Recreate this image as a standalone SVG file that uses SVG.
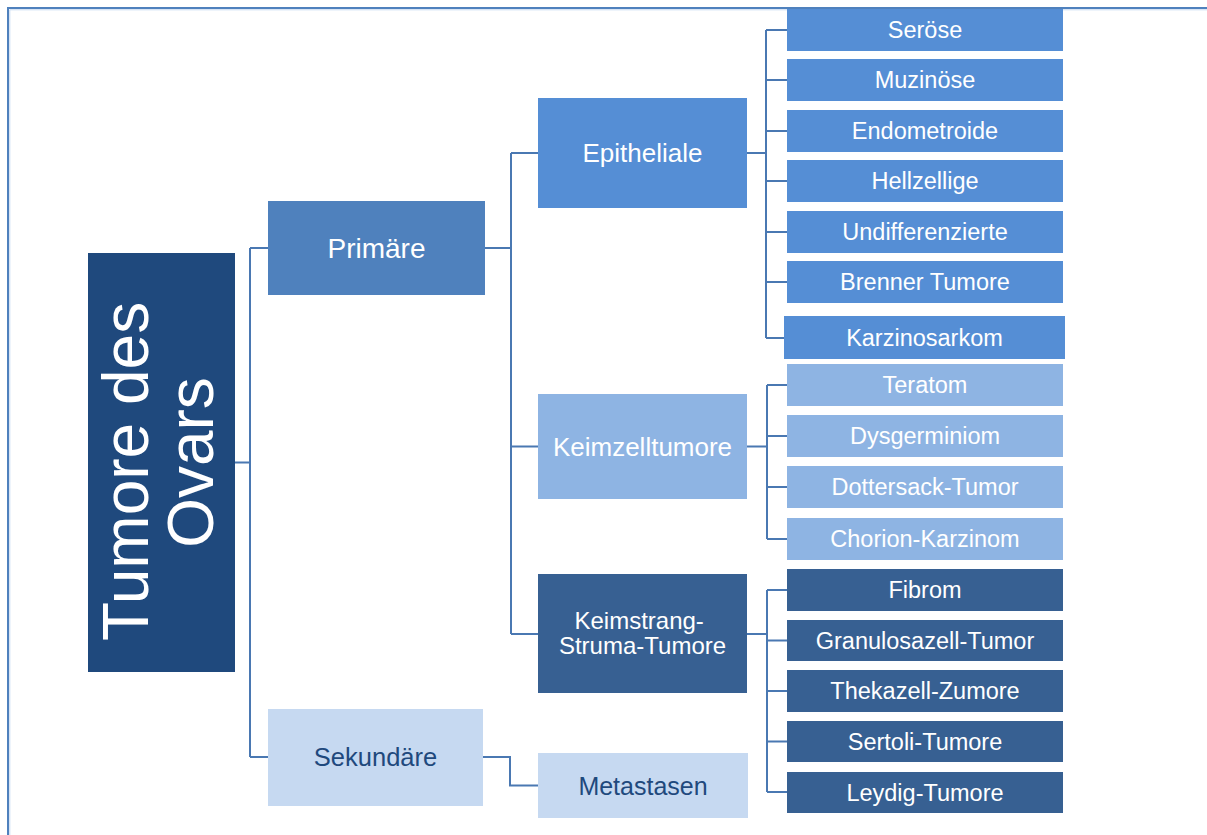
<svg xmlns="http://www.w3.org/2000/svg" width="1207" height="835" viewBox="0 0 1207 835">
  <style>
    text { font-family: "Liberation Sans", Arial, sans-serif; text-anchor: middle; }
    .root { fill: #1f497d; }
    .l1 { fill: #4f81bd; }
    .epi { fill: #558ed5; }
    .kz { fill: #8eb4e3; }
    .ks { fill: #376092; }
    .sek { fill: #c6d9f1; }
    .tw { fill: #ffffff; }
    .td { fill: #1f497d; }
    .leaf { font-size: 23.5px; }
    .mid { font-size: 26px; }
    .conn path { fill: none; stroke: #4a78b2; stroke-width: 2; }
    .conn path.hl { stroke: #b9cde6; stroke-width: 1; }
  </style>

  <rect width="1207" height="835" fill="#ffffff"/>

  <!-- page frame -->
  <path d="M8,835 V8 H1207" fill="none" stroke="#4f81bd" stroke-width="2"/>
  <path d="M9.8,835 V9.8 H1207" fill="none" stroke="#c6d9f1" stroke-width="1"/>

  <!-- connectors -->
  <g id="connectors" class="conn">
    <path d="M235,462.5 H250 M250,248 V757 M250,248 H268 M250,757 H268"/>
    <path d="M485,248 H511 M511,153 V634 M511,153 H538 M511,446.5 H538 M511,634 H538"/>
    <path d="M747,153 H766 M766,30 V338 M766,30 H787 M766,80 H787 M766,131 H787 M766,181 H787 M766,232 H787 M766,282 H787 M766,338 H784"/>
    <path d="M747,446.5 H767 M767,385 V539 M767,385 H787 M767,436 H787 M767,487 H787 M767,539 H787"/>
    <path d="M747,634 H767 M767,590 V792 M767,590 H787 M767,640.5 H787 M767,691 H787 M767,741.5 H787 M767,792 H787"/>
    <path d="M483,757 H510 V785.5 H538"/>
  </g>

  <!-- root -->
  <g id="root">
    <rect class="root" x="88" y="253" width="147" height="419"/>
    <text class="tw" font-size="64" transform="translate(161.5,462.5) rotate(-90)">
      <tspan x="0" y="-13.5">Tumore des</tspan>
      <tspan x="0" y="51.5">Ovars</tspan>
    </text>
  </g>

  <!-- first level -->
  <g id="primaere">
    <rect class="l1" x="268" y="201" width="217" height="94"/>
    <text class="tw" x="376.5" y="257.5" font-size="28">Primäre</text>
  </g>
  <g id="sekundaere">
    <rect class="sek" x="268" y="709" width="215" height="97"/>
    <text class="td" x="375.5" y="766" font-size="25.5">Sekundäre</text>
  </g>

  <!-- second level -->
  <g id="epitheliale">
    <rect class="epi" x="538" y="98" width="209" height="110"/>
    <text class="tw mid" x="642.5" y="162">Epitheliale</text>
  </g>
  <g id="keimzelltumore">
    <rect class="kz" x="538" y="394" width="209" height="105"/>
    <text class="tw mid" x="642.5" y="455.5">Keimzelltumore</text>
  </g>
  <g id="keimstrang">
    <rect class="ks" x="538" y="574" width="209" height="119"/>
    <text class="tw" x="642.5" font-size="24">
      <tspan x="642.5" y="628.5">Keimstrang-</tspan>
      <tspan x="642.5" y="653.5">Struma-Tumore</tspan>
    </text>
  </g>
  <g id="metastasen">
    <rect class="sek" x="538" y="753" width="210" height="65"/>
    <text class="td" x="643" y="794.5" font-size="25">Metastasen</text>
  </g>

  <!-- epithelial leaves -->
  <g id="seroese"><rect class="epi" x="787" y="9" width="276" height="42"/><text class="tw leaf" x="925" y="38">Seröse</text></g>
  <g id="muzinoese"><rect class="epi" x="787" y="59" width="276" height="42"/><text class="tw leaf" x="925" y="88">Muzinöse</text></g>
  <g id="endometroide"><rect class="epi" x="787" y="110" width="276" height="42"/><text class="tw leaf" x="925" y="139">Endometroide</text></g>
  <g id="hellzellige"><rect class="epi" x="787" y="160" width="276" height="42"/><text class="tw leaf" x="925" y="189">Hellzellige</text></g>
  <g id="undifferenzierte"><rect class="epi" x="787" y="211" width="276" height="42"/><text class="tw leaf" x="925" y="240">Undifferenzierte</text></g>
  <g id="brenner"><rect class="epi" x="787" y="261" width="276" height="42"/><text class="tw leaf" x="925" y="290">Brenner Tumore</text></g>
  <g id="karzinosarkom"><rect class="epi" x="784" y="316" width="281" height="43"/><text class="tw leaf" x="924.5" y="345.5">Karzinosarkom</text></g>

  <!-- germ cell leaves -->
  <g id="teratom"><rect class="kz" x="787" y="364" width="276" height="42"/><text class="tw leaf" x="925" y="393">Teratom</text></g>
  <g id="dysgerminiom"><rect class="kz" x="787" y="415" width="276" height="42"/><text class="tw leaf" x="925" y="444">Dysgerminiom</text></g>
  <g id="dottersack"><rect class="kz" x="787" y="466" width="276" height="42"/><text class="tw leaf" x="925" y="495">Dottersack-Tumor</text></g>
  <g id="chorion"><rect class="kz" x="787" y="518" width="276" height="42"/><text class="tw leaf" x="925" y="547">Chorion-Karzinom</text></g>

  <!-- sex cord stromal leaves -->
  <g id="fibrom"><rect class="ks" x="787" y="569" width="276" height="42"/><text class="tw leaf" x="925" y="598">Fibrom</text></g>
  <g id="granulosazell"><rect class="ks" x="787" y="620" width="276" height="41"/><text class="tw leaf" x="925" y="648.5">Granulosazell-Tumor</text></g>
  <g id="thekazell"><rect class="ks" x="787" y="670" width="276" height="42"/><text class="tw leaf" x="925" y="699">Thekazell-Zumore</text></g>
  <g id="sertoli"><rect class="ks" x="787" y="721" width="276" height="41"/><text class="tw leaf" x="925" y="749.5">Sertoli-Tumore</text></g>
  <g id="leydig"><rect class="ks" x="787" y="772" width="276" height="41"/><text class="tw leaf" x="925" y="800.5">Leydig-Tumore</text></g>
</svg>
